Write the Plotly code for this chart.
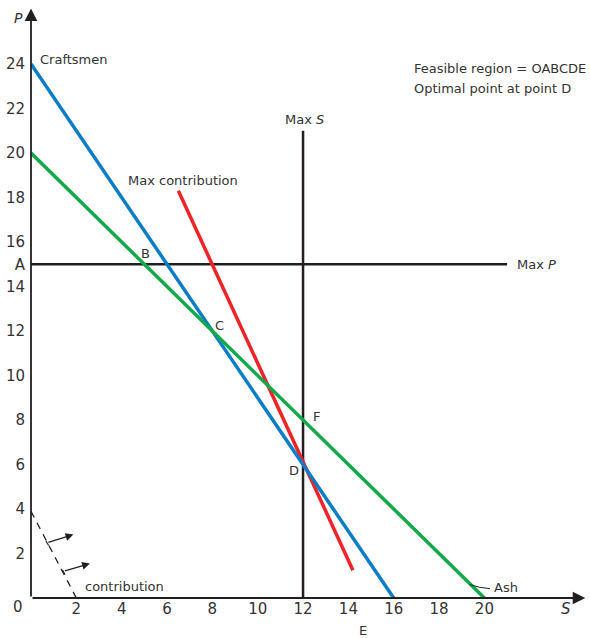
import plotly.graph_objects as go

# ---- data ----
craft_S = [0, 16]
craft_P = [24, 0]
ash_S = [0, 20]
ash_P = [20, 0]
contrib_S = [6.5, 14.2]
contrib_P = [18.3, 1.25]
maxS_S = [12, 12]
maxS_P = [0, 21]
maxP_S = [0, 21]
maxP_P = [15, 15]
iso_S = [0, 2]
iso_P = [3.9, 0]

x_ticks = [2, 4, 6, 8, 10, 12, 14, 16, 18, 20]
y_ticks = [2, 4, 6, 8, 10, 12, 14, 15, 16, 18, 20, 22, 24]
y_ticktext = ["2", "4", "6", "8", "10", "12", "14", "A", "16", "18", "20", "22", "24"]

BLACK = "#231f20"
BLUE = "#0a7dc6"
GREEN = "#13a84a"
RED = "#ed2328"
TXT = "#333333"
FONT = "DejaVu Sans, Liberation Sans, sans-serif"

W, H = 590, 638
ML, MB = 31, 40
PW, PH = W - ML, H - MB

fig = go.Figure()

def line(xs, ys, color, width, dash="solid"):
    fig.add_trace(go.Scatter(x=xs, y=ys, mode="lines", showlegend=False,
                             hoverinfo="skip", cliponaxis=False,
                             line=dict(color=color, width=width, dash=dash)))

line(maxS_S, maxS_P, BLACK, 2.5)
line(maxP_S, maxP_P, BLACK, 2.5)
line(iso_S, iso_P, BLACK, 1.3, dash="7px,6px")
line(contrib_S, contrib_P, RED, 3.5)
line(craft_S, craft_P, BLUE, 3.5)
line(ash_S, ash_P, GREEN, 3.5)

# small direction markers on the iso-contribution line
for (tx0, ty0, tx1, ty1, bx, by, hx, hy) in [
    (0.66, 2.56, 0.78, 2.36, 0.70, 2.48, 1.87, 2.85),
    (1.39, 1.26, 1.50, 1.06, 1.43, 1.20, 2.60, 1.55),
]:
    line([tx0, tx1], [ty0, ty1], BLACK, 1.2)
    fig.add_annotation(x=hx, y=hy, ax=bx, ay=by, xref="x", yref="y",
                       axref="x", ayref="y", text="", showarrow=True,
                       arrowhead=2, arrowsize=1.3, arrowwidth=1.2,
                       arrowcolor=BLACK)

# axes with arrowheads
fig.add_annotation(x=24.45, y=0, ax=0, ay=0, xref="x", yref="y",
                   axref="x", ayref="y", text="", showarrow=True,
                   arrowhead=2, arrowsize=1.4, arrowwidth=1.8, arrowcolor=BLACK)
fig.add_annotation(x=0, y=26.5, ax=0, ay=0, xref="x", yref="y",
                   axref="x", ayref="y", text="", showarrow=True,
                   arrowhead=2, arrowsize=1.4, arrowwidth=1.8, arrowcolor=BLACK)

def label(x, y, text, xanchor="center", yanchor="middle", size=13):
    fig.add_annotation(x=x, y=y, xref="x", yref="y", text=text,
                       showarrow=False, xanchor=xanchor, yanchor=yanchor,
                       font=dict(family=FONT, size=size, color=TXT))

def plabel(px, py, text, size=15):
    fig.add_annotation(x=(px - ML) / PW, y=(PH - py) / PH, xref="paper",
                       yref="paper", text=text, showarrow=False,
                       xanchor="center", yanchor="middle",
                       font=dict(family=FONT, size=size, color=TXT))

label(0.31, 24.2, "Craftsmen", xanchor="left")
label(6.7, 18.75, "Max contribution")
label(12.08, 21.5, "Max <i>S</i>")
label(5.07, 15.5, "B")
label(8.3, 12.25, "C")
label(11.6, 5.75, "D")
label(12.6, 8.15, "F")
label(21.35, 15.0, "Max <i>P</i>", xanchor="left")
label(16.8, 23.8, "Feasible region = OABCDE", xanchor="left")
label(16.8, 22.9, "Optimal point at point D", xanchor="left")
label(20.35, 0.45, "Ash", xanchor="left")
label(2.3, 0.5, "contribution", xanchor="left")
plabel(18, 18, "<i>P</i>", size=14)
plabel(566, 609, "<i>S</i>", size=15)
plabel(18, 607, "0", size=15)
plabel(363, 630, "E", size=13)

# leader line for Ash
fig.add_shape(type="path", path="M 19.35 0.6 Q 19.8 0.45 20.25 0.42",
              xref="x", yref="y", line=dict(color=BLACK, width=1))

fig.update_layout(
    width=W, height=H,
    margin=dict(l=ML, r=0, t=0, b=MB),
    paper_bgcolor="white", plot_bgcolor="white",
    xaxis=dict(range=[0, PW / 22.67], showgrid=False, zeroline=False,
               showline=False, tickvals=x_ticks, ticks="",
               tickfont=dict(family=FONT, size=15, color=TXT)),
    yaxis=dict(range=[0, PH / 22.25], showgrid=False, zeroline=False,
               showline=False, tickvals=y_ticks, ticktext=y_ticktext,
               ticks="", ticklabelstandoff=5,
               tickfont=dict(family=FONT, size=15, color=TXT)),
)

fig.write_html("out.html", config={"displayModeBar": False},
               post_script="document.body.style.margin='0px';document.body.style.overflow='hidden';")
